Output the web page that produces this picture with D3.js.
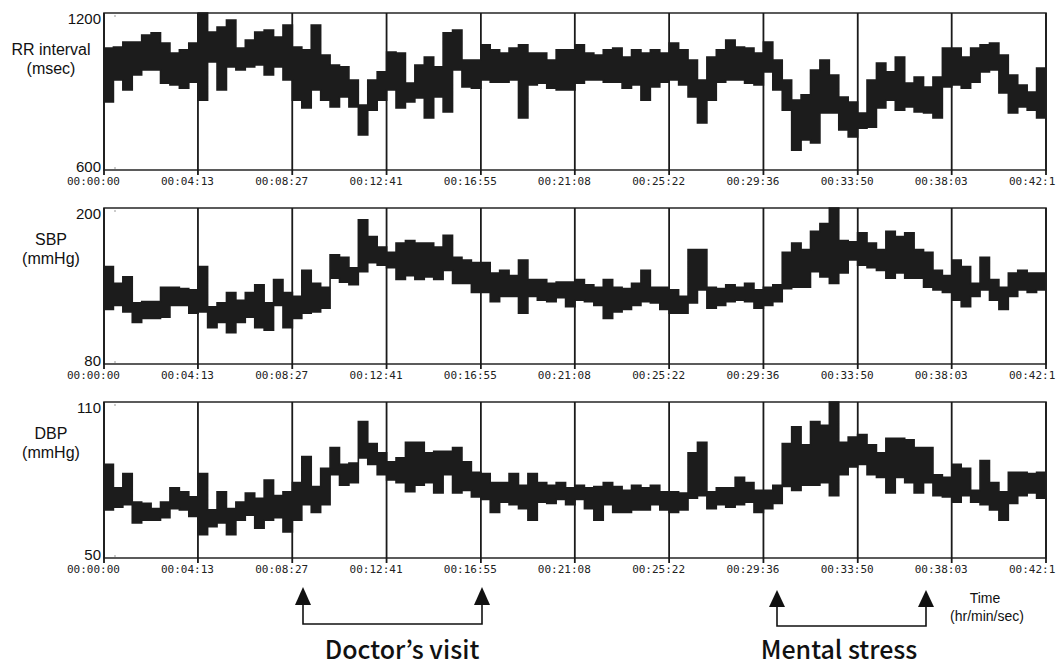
<html>
<head>
<script src="https://d3js.org/d3.v7.min.js"></script>
<style>
  body { margin: 0; background: #fff; }
  .axislabel { font-family: "Liberation Sans", Arial, sans-serif; font-size: 15px; fill: #111; }
  .ticklabel { font-family: "DejaVu Sans Mono", monospace; font-size: 11px; fill: #222; }
  .note { font-family: "Noto Sans CJK JP", "Noto Sans", sans-serif; font-size: 25px; font-weight: 500; fill: #111; }
</style>
</head>
<body>
<svg id="chart" width="1059" height="666"></svg>
<script>
// time axis (seconds) and its labels (the last one is cut by the page edge in the original)
const tickSec = [0, 253, 507, 761, 1015, 1268, 1522, 1776, 2030, 2283, 2537];
const tickLabels = ["00:00:00", "00:04:13", "00:08:27", "00:12:41", "00:16:55", "00:21:08",
                    "00:25:22", "00:29:36", "00:33:50", "00:38:03", "00:42:1"];
// each reading window is 1/100 of the record
const windowSec = 25.37;

// RR interval (msec): max / min in each window
const rrHigh = [1066,1070,1089,1089,1116,1124,1085,1047,1059,1085, 1200,1127,1146,1173,1066,1097,1127,1135,1108,1154,
                1070,1059,1154,1039,1001,994,944,848,944,975, 1051,1047,932,1001,1032,994,1124,1135,1020,1020,
                1078,1059,1047,1066,1078,1047,1047,1020,1059,1059, 1078,1047,1039,1059,1066,1032,1059,1047,1059,1047,
                1085,1059,1020,944,1032,1059,1097,1070,1066,1047, 1089,1020,944,867,887,982,1020,963,879,860,
                818,944,1009,975,1032,932,955,917,955,1066, 1066,1032,1066,1078,1085,1039,963,925,898,990];
const rrLow  = [860,944,906,963,982,982,932,925,913,936, 867,1013,906,994,982,994,1001,963,994,944,
                867,837,906,867,841,879,841,734,829,867, 906,837,860,875,799,879,822,982,917,913,
                944,936,936,944,799,925,932,913,906,906, 932,944,944,936,936,913,925,867,917,936,
                944,925,879,780,867,936,944,944,932,925, 975,906,829,676,715,703,818,818,753,726,
                760,764,837,867,829,841,822,818,799,917, 925,913,936,975,982,894,818,841,829,799];

// systolic blood pressure (mmHg)
const sbpHigh = [155,142,147,127,128,128,139,139,138,137, 155,124,127,135,129,135,141,127,145,135,
                 132,152,142,139,164,162,154,191,178,170, 166,173,175,173,173,170,179,162,160,158,
                 158,150,152,148,160,145,145,142,143,143, 145,141,139,145,139,138,142,152,139,139,
                 137,132,168,168,139,138,141,139,142,137, 139,141,166,173,168,182,188,200,175,174,
                 181,173,168,182,178,181,168,166,152,148, 160,155,142,162,145,139,150,152,150,150];
const sbpLow  = [122,125,120,112,115,115,116,125,125,119, 120,108,112,104,112,116,108,106,125,108,
                 115,119,120,123,146,143,141,151,158,156, 154,145,148,145,147,145,152,142,142,135,
                 135,128,132,132,119,132,129,128,131,124, 129,128,125,115,120,122,125,128,127,122,
                 119,119,127,137,123,125,128,129,128,123, 125,128,138,139,139,151,147,142,150,160,
                 156,154,152,146,150,146,146,139,137,135, 129,124,132,137,129,122,132,137,135,137];

// diastolic blood pressure (mmHg)
const dbpHigh = [86,77,82.5,71.5,71,69,71.5,77,75.5,73.5, 82.5,68.5,75.5,69,71.5,75,73,80,74,75.5,
                 79,89,77.5,84.5,92.5,86,86.5,102.5,94,90.5, 87,88.5,94.5,94.5,90.5,91,91,92.5,87,83,
                 82.5,79,79,82.5,78,82.5,79,78,79,77, 78,77,77.5,79,77.5,76,78,77,78,75.5,
                 75.5,75,90.5,94.5,75.5,77,77,81,79,76, 76,78,94,100.5,93.5,102.5,101,110,94.5,96.5,
                 97.5,93.5,90.5,96,96,95.5,92.5,92.5,82,81, 86,84.5,76,87.5,79,75.5,83,83,82.5,83];
const dbpLow  = [68.5,69.5,70.5,63.5,64.5,64.5,65.5,69,68.5,66, 59,62,63.5,59,64.5,66.5,61.5,64.5,65.5,60,
                 64.5,70.5,67.5,70.5,82,78,79,88.5,86,82, 80,79,75.5,78,79,75,82,75,76,73.5,
                 72.5,67.5,71.5,70.5,69,64.5,71.5,71,72.5,70.5, 72.5,69,64.5,70.5,67.5,67.5,68.5,68.5,70.5,68.5,
                 67.5,68.5,73,74,69,70.5,69.5,70.5,71.5,67.5, 69,71,77.5,76,78,78,79,74,82,85,
                 86,82,81,75,81,79,75,79,74,73.5, 71.5,74,71.5,70.5,68.5,64.5,71,74,75,73];

const svg = d3.select("svg#chart");
const left = 104, right = 1046;
const x = d3.scaleLinear().domain([0, tickSec[tickSec.length - 1]]).range([left, right]);

const panels = [
    {top: 13,  bottom: 170, domain: [600, 1200], hi: rrHigh,  lo: rrLow,  lines: ["RR interval", "(msec)"], ly: [55, 74]},
    {top: 208, bottom: 364, domain: [80, 200],   hi: sbpHigh, lo: sbpLow, lines: ["SBP", "(mmHg)"], ly: [245, 264]},
    {top: 402, bottom: 558, domain: [50, 110],   hi: dbpHigh, lo: dbpLow, lines: ["DBP", "(mmHg)"], ly: [439, 458]}
];

panels.forEach(p => {
    const y = d3.scaleLinear().domain(p.domain).range([p.bottom, p.top]);
    const g = svg.append("g");

    // frame
    g.append("rect")
        .attr("x", left).attr("y", p.top)
        .attr("width", right - left).attr("height", p.bottom - p.top)
        .attr("fill", "none").attr("stroke", "#333").attr("stroke-width", 1.6);

    // tiny minor marks near left edge
    [p.top + 2, p.bottom - 3].forEach(yy => {
        g.append("line").attr("x1", left + 11).attr("x2", left + 11)
            .attr("y1", yy).attr("y2", yy + 2)
            .attr("stroke", "#999").attr("stroke-width", 1);
    });

    // vertical lines at every time tick, running down as ticks
    g.selectAll("line.vgrid").data(tickSec)
        .join("line")
        .attr("class", "vgrid")
        .attr("x1", d => x(d)).attr("x2", d => x(d))
        .attr("y1", p.top).attr("y2", p.bottom + 5)
        .attr("stroke", "#1a1a1a").attr("stroke-width", 1.8);

    // tick labels: second colon sits on the tick
    g.selectAll("text.ticklabel").data(tickLabels)
        .join("text")
        .attr("class", "ticklabel")
        .attr("x", (d, i) => x(tickSec[i]) - 37)
        .attr("y", p.bottom + 15)
        .text(d => d);

    // y-axis end values
    g.append("text").attr("class", "axislabel")
        .attr("x", left - 3).attr("y", p.top + 11)
        .attr("text-anchor", "end").text(p.domain[1]);
    g.append("text").attr("class", "axislabel")
        .attr("x", left - 3).attr("y", p.bottom + 2)
        .attr("text-anchor", "end").text(p.domain[0]);

    // measure name
    p.lines.forEach((t, i) => {
        g.append("text").attr("class", "axislabel")
            .attr("x", 51).attr("y", p.ly[i])
            .attr("text-anchor", "middle")
            .style("font-size", "16px").text(t);
    });

    // beat-to-beat trace drawn as the band between window max and min
    let pts = p.hi.map((h, i) => ({t: i * windowSec, hi: h, lo: p.lo[i]}));
    pts.push({t: tickSec[tickSec.length - 1] - 3, hi: p.hi[p.hi.length - 1], lo: p.lo[p.lo.length - 1]});

    const band = d3.area()
        .x(d => x(d.t))
        .y0(d => y(d.lo))
        .y1(d => y(d.hi))
        .curve(d3.curveStepAfter);

    g.append("path")
        .datum(pts)
        .attr("fill", "#1c1c1c")
        .attr("stroke", "#1c1c1c")
        .attr("stroke-width", 1.6)
        .attr("stroke-linejoin", "miter")
        .attr("d", band);
});

// event brackets under the time axis
const events = [
    {name: "Doctor\u2019s visit", x1: 303, x2: 482, tip: 587, base: 605, low: 624, tx: 402},
    {name: "Mental stress",       x1: 777, x2: 926, tip: 590, base: 607, low: 626, tx: 839}
];
events.forEach(e => {
    svg.append("path")
        .attr("d", `M${e.x1},${e.base}V${e.low}H${e.x2}V${e.base}`)
        .attr("fill", "none").attr("stroke", "#111").attr("stroke-width", 1.6);
    [e.x1, e.x2].forEach(ax => {
        svg.append("path")
            .attr("d", `M${ax},${e.tip}L${ax - 8},${e.base}L${ax + 8},${e.base}Z`)
            .attr("fill", "#111");
    });
    svg.append("text").attr("class", "note")
        .attr("x", e.tx).attr("y", 659)
        .attr("text-anchor", "middle").text(e.name);
});

// time axis title
svg.append("text").attr("class", "axislabel")
    .attr("x", 985).attr("y", 603).attr("text-anchor", "middle")
    .style("font-size", "14px").text("Time");
svg.append("text").attr("class", "axislabel")
    .attr("x", 987).attr("y", 621).attr("text-anchor", "middle")
    .style("font-size", "14px").text("(hr/min/sec)");
</script>
</body>
</html>
